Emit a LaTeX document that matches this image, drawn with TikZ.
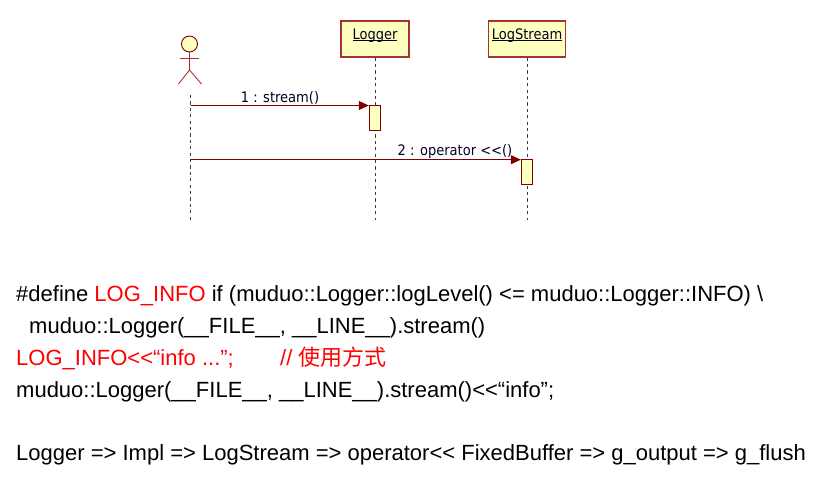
\documentclass[tikz,border=0pt]{standalone}
\usepackage{fontspec}
\setmainfont{Liberation Sans}
\newfontfamily\cjkf{Noto Sans CJK SC}
\newfontfamily\umlf{DejaVu Sans Condensed}
\usetikzlibrary{arrows.meta}
\definecolor{umlline}{RGB}{128,0,0}
\definecolor{umlborder}{RGB}{165,50,50}
\definecolor{umlfill}{RGB}{255,255,190}
\definecolor{lifegray}{RGB}{60,60,60}
\definecolor{codered}{RGB}{255,0,0}
\newsavebox{\ulnamebox}
\newcommand{\ulname}[1]{\sbox{\ulnamebox}{#1}\rlap{\rule[-1.6pt]{\wd\ulnamebox}{0.9pt}}\usebox{\ulnamebox}}
\tikzset{
 x=1pt,y=-1pt,
 objbox/.style={draw=umlborder,fill=umlfill,line width=1.1pt,minimum height=36pt,inner sep=0pt,text height=10pt,text depth=10pt,font=\umlf\fontsize{14.5}{16}\selectfont,text=black!85!blue},
 actbox/.style={draw=umlline,fill=umlfill,line width=0.9pt,minimum width=11.5pt,minimum height=25pt,inner sep=0pt},
 lifeline/.style={lifegray,line width=1pt,dash pattern=on 3.2pt off 3.2pt},
 msg/.style={umlline,line width=1pt,-{Triangle[length=10pt,width=9pt]}},
 msgtext/.style={font=\umlf\fontsize{14.5}{16}\selectfont,text=black!85!blue,inner sep=0pt,anchor=base},
 stick/.style={umlborder,line width=0.9pt},
 code/.style={anchor=base west,inner sep=0pt,font=\fontsize{22}{26}\selectfont},
}
\begin{document}
\begin{tikzpicture}
\useasboundingbox (0,0) rectangle (820,479);
% lifelines
\coordinate (aTop) at (190.7,95);
\coordinate (aEnd) at (190.7,220);
\coordinate (lEnd) at (375.7,220);
\coordinate (sEnd) at (527.7,220);
\node[objbox,minimum width=68pt] (logger) at (375,39) {\ulname{Logger}};
\node[objbox,minimum width=77.5pt] (stream) at (527,39) {\ulname{LogStream}};
\draw[lifeline] (aTop) -- (aEnd);
\draw[lifeline] (logger.south -| lEnd) -- (lEnd);
\draw[lifeline] (stream.south -| sEnd) -- (sEnd);
% actor
\node[circle,draw=umlline,fill=umlfill,line width=0.9pt,minimum size=16pt,inner sep=0pt] (head) at (189.5,44) {};
\coordinate (hip) at (189.5,70);
\coordinate (armL) at (180,58);
\coordinate (armR) at (198.5,58);
\coordinate (legL) at (178.5,84);
\coordinate (legR) at (201.5,84);
\draw[stick] (head.south) -- (hip);
\draw[stick] (armL) -- (armR);
\draw[stick] (legL) -- (hip) -- (legR);
% activations
\node[actbox] (act1) at (375,117.8) {};
\node[actbox] (act2) at (527,172.2) {};
% messages
\coordinate (m1) at (190.7,105.5);
\coordinate (m2) at (190.7,159.7);
\draw[msg] (m1) -- (m1 -| act1.west);
\draw[msg] (m2) -- (m2 -| act2.west);
\node[msgtext] (t1) at (280,102) {1 : stream()};
\node[msgtext] (t2) at (455,155) {2 : operator {<}{<}()};
% code
\node[code] (c1) at (16,301) {\#define \textcolor{codered}{LOG\_INFO} if (muduo::Logger::logLevel() <= muduo::Logger::INFO) \textbackslash};
\node[code] (c2) at (29,333) {muduo::Logger(\_\_FILE\_\_, \_\_LINE\_\_).stream()};
\node[code,text=codered] (c3) at (16,365) {LOG\_INFO{<}{<}“info ...”;};
\node[code,text=codered] (c3b) at (280,365) {// {\cjkf 使用方式}};
\node[code] (c4) at (16,397) {muduo::Logger(\_\_FILE\_\_, \_\_LINE\_\_).stream(){<}{<}“info”;};
\node[code] (c5) at (16,460) {Logger => Impl => LogStream => operator{<}{<} FixedBuffer => g\_output => g\_flush};
\end{tikzpicture}
\end{document}
